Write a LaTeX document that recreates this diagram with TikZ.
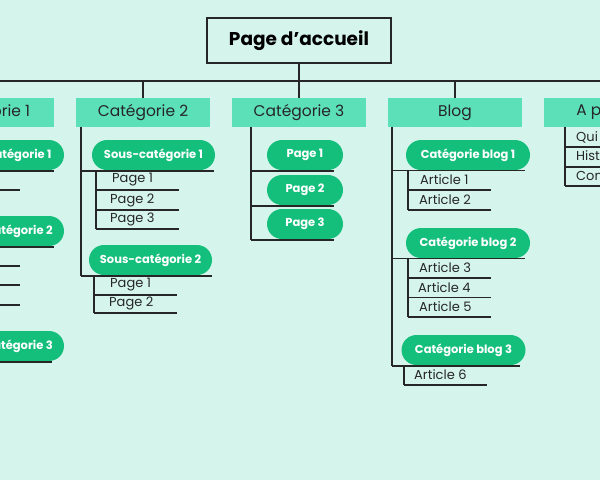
\documentclass[tikz,border=0pt]{standalone}
\usepackage{fontspec}
\setmainfont{Poppins}
\begin{document}
\begin{tikzpicture}[x=1pt,y=-1pt,
  ln/.style={line width=1.8pt,draw=black!85},
  cat/.style={fill=catc,minimum width=134pt,minimum height=29pt,inner sep=0pt,font=\fontsize{15.5}{17}\selectfont,text=black!85},
  pill/.style={fill=pillc,rounded corners=15pt,minimum height=30pt,inner sep=0pt,font=\fontsize{11.5}{13}\selectfont\bfseries,text=white},
  leaf/.style={anchor=west,inner sep=0pt,font=\fontsize{13}{15}\selectfont,text=black!85}]
\definecolor{bg}{HTML}{D5F5EC}
\definecolor{catc}{HTML}{5CE0B8}
\definecolor{pillc}{HTML}{14BE7B}
\fill[bg] (0,0) rectangle (600,480);
\useasboundingbox (0,0) rectangle (600,480);
\clip (0,0) rectangle (600,480);
% root
\node[ln,fill=bg,minimum width=184pt,minimum height=45pt,font=\fontsize{18.5}{20}\selectfont\bfseries] (root) at (299,40.5) {Page d’accueil};
\coordinate (bl) at (-200,81); \coordinate (br) at (800,81);
\draw[ln] (bl) -- (br);
\draw[ln] (root.south) -- (root.south |- bl);
% categories
\node[cat] (c1) at (-13,112.5) {Catégorie 1};
\node[cat] (c2) at (143,112.5) {Catégorie 2};
\node[cat] (c3) at (299,112.5) {Catégorie 3};
\node[cat] (c4) at (455,112.5) {Blog};
\node[cat] (c5) at (611,112.5) {A propos};
\foreach \c in {c1,c2,c3,c4,c5}{\draw[ln] (\c.north) -- (\c.north |- bl);}
% Category 1
\node[pill,minimum width=124pt] (p11) at (2,155) {Sous-catégorie 1};
\node[pill,minimum width=124pt] (p12) at (2,231) {Sous-catégorie 2};
\node[pill,minimum width=124pt] (p13) at (2,346) {Sous-catégorie 3};
\coordinate (v1) at (-75,127);
\draw[ln] (v1) -- ++(0,236);
\foreach \y/\e in {171/54,247/54,362/52}{\draw[ln] (-75,\y) -- (\e,\y);}
\foreach \y in {190,266,285,305}{\draw[ln] (-60,\y) -- (20,\y);}
% Category 2
\coordinate (v2) at (81,127);
\node[pill,minimum width=123pt] (s21) at (153.5,155) {Sous-catégorie 1};
\node[pill,minimum width=123pt] (s22) at (150.5,260) {Sous-catégorie 2};
\draw[ln] (v2) -- (81,276);
\draw[ln] (81,171) -- (214,171);
\draw[ln] (81,276) -- (212,276);
\draw[ln] (96,171) -- (96,229);
\foreach \y in {190,210,229}{\draw[ln] (96,\y) -- (179,\y);}
\node[leaf] (pg1) at (112,180) {Page 1};
\node[leaf] (pg2) at (110,200) {Page 2};
\node[leaf] (pg3) at (110,219.5) {Page 3};
\draw[ln] (94,276) -- (94,313);
\foreach \y in {295,313}{\draw[ln] (94,\y) -- (177,\y);}
\node[leaf] (pg4) at (110,284.5) {Page 1};
\node[leaf] (pg5) at (109,303) {Page 2};
% Category 3
\draw[ln] (251,127) -- (251,240);
\node[pill,minimum width=76pt] (q1) at (305,155) {Page 1};
\node[pill,minimum width=76pt] (q2) at (305,190) {Page 2};
\node[pill,minimum width=76pt] (q3) at (305,224) {Page 3};
\foreach \y in {171,206,240}{\draw[ln] (251,\y) -- (334,\y);}
% Blog
\draw[ln] (392,127) -- (392,366);
\node[pill,minimum width=124pt] (b1) at (468,155) {Catégorie blog 1};
\node[pill,minimum width=124pt] (b2) at (468,243) {Catégorie blog 2};
\node[pill,minimum width=124pt] (b3) at (463.5,350) {Catégorie blog 3};
\draw[ln] (392,170.5) -- (525,170.5);
\draw[ln] (392,258.5) -- (525,258.5);
\draw[ln] (392,366) -- (520,366);
\draw[ln] (408,170.5) -- (408,210);
\foreach \y in {190,210}{\draw[ln] (408,\y) -- (491,\y);}
\draw[ln] (408,258.5) -- (408,317);
\foreach \y in {278,297.5,317}{\draw[ln] (408,\y) -- (491,\y);}
\draw[ln] (404,366) -- (404,385);
\draw[ln] (404,385) -- (487,385);
\node[leaf] (a1) at (420,179.5) {Article 1};
\node[leaf] (a2) at (419,199.5) {Article 2};
\node[leaf] (a3) at (419,267.5) {Article 3};
\node[leaf] (a4) at (418,287.5) {Article 4};
\node[leaf] (a5) at (419,307) {Article 5};
\node[leaf] (a6) at (414,375) {Article 6};
% A propos
\draw[ln] (565,127) -- (565,186);
\foreach \y in {147,167,186}{\draw[ln] (565,\y) -- (650,\y);}
\node[leaf] (r1) at (576,137) {Qui sommes-nous};
\node[leaf] (r2) at (576,157) {Historique};
\node[leaf] (r3) at (576,176) {Contact};
\end{tikzpicture}
\end{document}
